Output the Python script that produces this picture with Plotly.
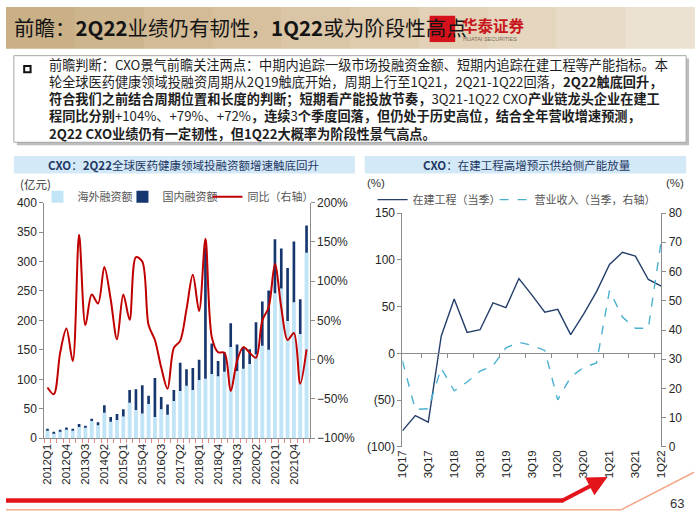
import plotly.graph_objects as go

# ---------------- data ----------------
quarters_left = ['2012Q1', '2012Q2', '2012Q3', '2012Q4', '2013Q1', '2013Q2', '2013Q3', '2013Q4',
                 '2014Q1', '2014Q2', '2014Q3', '2014Q4', '2015Q1', '2015Q2', '2015Q3', '2015Q4',
                 '2016Q1', '2016Q2', '2016Q3', '2016Q4', '2017Q1', '2017Q2', '2017Q3', '2017Q4',
                 '2018Q1', '2018Q2', '2018Q3', '2018Q4', '2019Q1', '2019Q2', '2019Q3', '2019Q4',
                 '2020Q1', '2020Q2', '2020Q3', '2020Q4', '2021Q1', '2021Q2', '2021Q3', '2021Q4',
                 '2022Q1', '2022Q2']
left_tick_labels = ['2012Q1', '2012Q4', '2013Q3', '2014Q2', '2015Q1', '2015Q4', '2016Q3',
                    '2017Q2', '2018Q1', '2018Q4', '2019Q3', '2020Q2', '2021Q1', '2021Q4']
overseas = [13, 9, 12, 15, 13, 19, 19, 29, 22, 43, 28, 31, 37, 60, 48, 42, 58, 36, 49, 40,
            63, 80, 89, 82, 99, 101, 109, 105, 113, 155, 114, 118, 126, 142, 157, 150,
            246, 254, 199, 231, 177, 315]
domestic = [3, 1, 1.5, 3, 3, 5, 2, 4, 5, 13, 8, 10, 12, 22, 35, 48, 14, 66, 21, 17,
            19, 48, 28, 37, 34, 223, 52, 26, 33, 40, 45, 37, 25, 55, 75, 101,
            92, 68, 90, 103, 59, 46]
yoy = [-35.5, -44, 8.7, 39.7, -1.7, 159, 44, 83, 71.5, 118, 77, 26, 83, 51, 130.5, 125,
       44, 25, -10, -37, 15, 24, 64, 108, 62, 154, 29, 9.5, 8.7, -40, -1.7, 16, 8.7, 2.5,
       50, 66.5, 122, 66.5, 25, 34, -30.6, 13]

quarters_right = ['1Q17', '2Q17', '3Q17', '4Q17', '1Q18', '2Q18', '3Q18', '4Q18', '1Q19', '2Q19',
                  '3Q19', '4Q19', '1Q20', '2Q20', '3Q20', '4Q20', '1Q21', '2Q21', '3Q21', '4Q21',
                  '1Q22']
right_tick_labels = ['1Q17', '3Q17', '1Q18', '3Q18', '1Q19', '3Q19', '1Q20', '3Q20', '1Q21',
                     '3Q21', '1Q22']
cip = [-82.8, -66.5, -73.5, 18.4, 58.2, 22.5, 25.3, 54, 48.9, 80, 62.5, 44, 47, 20, 42, 66,
       95, 108, 104, 79, 72]
revenue = [29.5, 12.8, 13.1, 26.9, 19.2, 22.2, 25.9, 27.8, 33.9, 35.8, 34.8, 33.0, 16.1, 23.9,
           27.2, 28.7, 53.5, 44.4, 40.6, 40.6, 70.6]

left_y_ticks = [-100, -50, 0, 50, 100, 150]
left_y_text = ['(100)', '(50)', '0', '50', '100', '150']

# ---------------- helpers ----------------
W, H = 700, 525
def px(x):
    return x / W
def py(y):
    return 1 - y / H

CJK = "Noto Sans CJK SC"
LAT = "Arial, Liberation Sans, sans-serif"
AX = '#8c8c8c'
TXT = '#262626'

fig = go.Figure()

# ---------------- left chart ----------------
fig.add_trace(go.Bar(x=quarters_left, y=overseas, name='海外融资额', marker_color='#c2e4f7',
                     marker_line_width=0, width=0.62, xaxis='x', yaxis='y', legend='legend'))
fig.add_trace(go.Bar(x=quarters_left, y=domestic, base=overseas, name='国内融资额',
                     marker_color='#16366f', marker_line_width=0, width=0.42,
                     xaxis='x', yaxis='y', legend='legend'))
fig.add_trace(go.Scatter(x=quarters_left, y=yoy, name='同比（右轴）', mode='lines',
                         line=dict(color='#c00000', width=2, shape='spline', smoothing=0.9),
                         xaxis='x', yaxis='y2', legend='legend', legendwidth=72))

# ---------------- right chart ----------------
fig.add_trace(go.Scatter(x=quarters_right, y=cip, name='在建工程（当季）', mode='lines',
                         line=dict(color='#243f6a', width=1.4),
                         xaxis='x2', yaxis='y3', legend='legend2'))
fig.add_trace(go.Scatter(x=quarters_right, y=revenue, name='营业收入（当季，右轴）', mode='lines',
                         line=dict(color='#4bb0d0', width=1.4, dash='dash'),
                         xaxis='x2', yaxis='y4', legend='legend2', legendwidth=126))
# carrier for the zero-line axis
fig.add_trace(go.Scatter(x=quarters_right, y=cip, mode='lines', line=dict(width=0),
                         opacity=0, showlegend=False, hoverinfo='skip',
                         xaxis='x3', yaxis='y3'))

left_dom_x = [px(39), px(309)]
left_dom_y = [py(443), py(201)]
right_dom_x = [px(403.3), px(666.7)]
right_dom_y = [py(452), py(211.7)]
zero_pos = right_dom_y[0] + (0 - (-100)) / 250 * (right_dom_y[1] - right_dom_y[0])

tickfont = dict(family=LAT, size=12, color=TXT)

fig.update_layout(
    width=W, height=H, margin=dict(l=0, r=0, t=0, b=0),
    paper_bgcolor='white', plot_bgcolor='rgba(0,0,0,0)',
    barmode='overlay', showlegend=True,
    xaxis=dict(domain=left_dom_x, anchor='y', type='category',
               tickmode='array', tickvals=quarters_left,
               ticktext=[q if q in left_tick_labels else '' for q in quarters_left],
               tickangle=-90, tickfont=dict(family=LAT, size=11.5, color=TXT),
               showline=True, linecolor=AX, linewidth=1, ticks='outside', ticklen=4,
               tickcolor='#e08a8a', tickson='boundaries', showgrid=False),
    yaxis=dict(domain=left_dom_y, anchor='x', range=[0, 400], dtick=50,
               showline=True, linecolor=AX, ticks='outside', ticklen=4, tickcolor=AX,
               showgrid=False, zeroline=False, tickfont=tickfont),
    yaxis2=dict(overlaying='y', side='right', anchor='x', range=[-100, 200], dtick=50,
                ticksuffix='%', showline=True, linecolor=AX, ticks='outside', ticklen=4,
                tickcolor=AX, showgrid=False, zeroline=False, tickfont=tickfont),
    xaxis2=dict(domain=right_dom_x, anchor='y3', type='category',
                tickmode='array', tickvals=right_tick_labels, tickangle=-90,
                tickfont=dict(family=LAT, size=11.5, color=TXT),
                showline=False, ticks='', showgrid=False),
    xaxis3=dict(overlaying='x2', anchor='free', position=zero_pos, type='category',
                showline=True, linecolor=AX, linewidth=1.2, ticks='outside', ticklen=4,
                tickcolor=AX, tickson='boundaries', showticklabels=False, showgrid=False),
    yaxis3=dict(domain=right_dom_y, anchor='x2', range=[-100, 150],
                tickmode='array', tickvals=left_y_ticks, ticktext=left_y_text,
                showline=True, linecolor=AX, ticks='outside', ticklen=4, tickcolor=AX,
                showgrid=False, zeroline=False, tickfont=tickfont),
    yaxis4=dict(overlaying='y3', side='right', anchor='x2', range=[0, 80], dtick=10,
                showline=True, linecolor=AX, ticks='outside', ticklen=4, tickcolor=AX,
                showgrid=False, zeroline=False, tickfont=tickfont),
    legend=dict(orientation='h', x=px(32), y=py(180), xanchor='left', yanchor='top',
                bgcolor='rgba(0,0,0,0)', font=dict(family=CJK, size=11, color='#555555'),
                entrywidth=40, entrywidthmode='pixels', traceorder='normal'),
    legend2=dict(orientation='h', x=px(373), y=py(183), xanchor='left', yanchor='top',
                 bgcolor='rgba(0,0,0,0)', font=dict(family=CJK, size=11, color='#555555'),
                 entrywidth=77, entrywidthmode='pixels', traceorder='normal'),
)

# ---------------- decorations ----------------
shapes = []
# title bar gradient
bar_colors = ['#c9b086', '#cdb58e', '#d2bb96', '#d6c09e', '#dac6a6', '#decbae',
              '#e2d1b6', '#e5d7bf', '#e8dcc8', '#ebe2d1']
n = len(bar_colors)
for i, c in enumerate(bar_colors):
    shapes.append(dict(type='rect', xref='paper', yref='paper', x0=px(W * i / n), x1=px(W * (i + 1) / n + 1),
                       y0=py(43), y1=py(0), fillcolor=c, line_width=0, layer='below'))
# logo square
shapes.append(dict(type='rect', xref='paper', yref='paper', x0=px(431), x1=px(457), y0=py(36), y1=py(9),
                   fillcolor='#d5121b', line_width=0, layer='below'))
# text box shadow + box
shapes.append(dict(type='rect', xref='paper', yref='paper', x0=px(11), x1=px(695), y0=py(142), y1=py(53),
                   fillcolor='#bdbdbd', line_width=0, layer='below'))
shapes.append(dict(type='rect', xref='paper', yref='paper', x0=px(8), x1=px(692), y0=py(139), y1=py(50),
                   fillcolor='white', line=dict(color='#a6a6a6', width=1), layer='below'))
shapes.append(dict(type='rect', xref='paper', yref='paper', x0=px(18.5), x1=px(25), y0=py(67), y1=py(60.5),
                   fillcolor='white', line=dict(color='#111111', width=2)))
# chart header bands
shapes.append(dict(type='rect', xref='paper', yref='paper', x0=px(8), x1=px(355), y0=py(171), y1=py(153),
                   fillcolor='#d4e9f8', line_width=0, layer='below'))
shapes.append(dict(type='rect', xref='paper', yref='paper', x0=px(365), x1=px(692), y0=py(171), y1=py(153),
                   fillcolor='#d4e9f8', line_width=0, layer='below'))
# bottom lines
shapes.append(dict(type='line', xref='paper', yref='paper', x0=0, x1=px(567), y0=py(507), y1=py(507),
                   line=dict(color='#e3141b', width=4.5)))
shapes.append(dict(type='line', xref='paper', yref='paper', x0=0, x1=px(626), y0=py(516.5), y1=py(516.5),
                   line=dict(color='#f3a98a', width=1.5)))
shapes.append(dict(type='line', xref='paper', yref='paper', x0=px(626), x1=px(700), y0=py(516.5), y1=py(478),
                   line=dict(color='#f3a98a', width=1.5)))
fig.update_layout(shapes=shapes)

ann = []
def text(x, y, s, size=12, color=TXT, family=CJK, xanchor='left', yanchor='middle'):
    ann.append(dict(x=px(x), y=py(y), xref='paper', yref='paper', text=s, showarrow=False,
                    xanchor=xanchor, yanchor=yanchor, align='left',
                    font=dict(family=family, size=size, color=color)))

# title
text(6, 21, '前瞻：<b>2Q22</b>业绩仍有韧性，<b>1Q22</b>或为阶段性高点', size=20.5, color='#141414')
text(462, 19, '<b>华泰证券</b>', size=15.5, color='#c8161d')
text(463, 33, 'HUATAI SECURITIES', size=5.5, color='#7a6a5a', family=LAT)

# body text (one paragraph, explicit line breaks as in the reference)
lines = [
    '前瞻判断：CXO景气前瞻关注两点：中期内追踪一级市场投融资金额、短期内追踪在建工程等产能指标。本',
    '轮全球医药健康领域投融资周期从2Q19触底开始，周期上行至1Q21，2Q21-1Q22回落，<b>2Q22触底回升，</b>',
    '<b>符合我们之前结合周期位置和长度的判断；短期看产能投放节奏，</b>3Q21-1Q22 CXO<b>产业链龙头企业在建工</b>',
    '<b>程同比分别</b>+104%、+79%、+72%<b>，连续</b>3<b>个季度回落，但仍处于历史高位，结合全年营收增速预测，</b>',
    '<b>2Q22 CXO业绩仍有一定韧性，但1Q22大概率为阶段性景气高点。</b>',
]
text(42, 94.5, '<br>'.join(lines), size=13.2, color='#1e1e1e')

# chart headers
text(181, 162, '<b>CXO</b>：<b>2Q22</b>全球医药健康领域投融资额增速触底回升', size=11.5,
     color='#1f3864', xanchor='center')
text(530, 162, '<b>CXO</b>：在建工程高增预示供给侧产能放量', size=11.5,
     color='#1f3864', xanchor='center')

# unit labels
text(12, 182, '(亿元)', size=11.5, color='#333333')
text(365, 181, '(%)', size=11.5, color='#333333', family=LAT)
text(692, 181, '(%)', size=11.5, color='#333333', family=LAT, xanchor='right')

# page number
text(692, 510, '63', size=13, color='#333333', family=LAT, xanchor='right')

# red arrow (offset in pixels from the head)
ann.append(dict(x=px(612), y=py(483), xref='paper', yref='paper', ax=-47, ay=24.5,
                text='', showarrow=True, arrowhead=2,
                arrowsize=1, arrowwidth=4, arrowcolor='#e3141b'))

fig.update_layout(annotations=ann)

fig.write_html("out.html", config={'displayModeBar': False},
               post_script="document.body.style.margin='0';document.body.style.overflow='hidden';")
